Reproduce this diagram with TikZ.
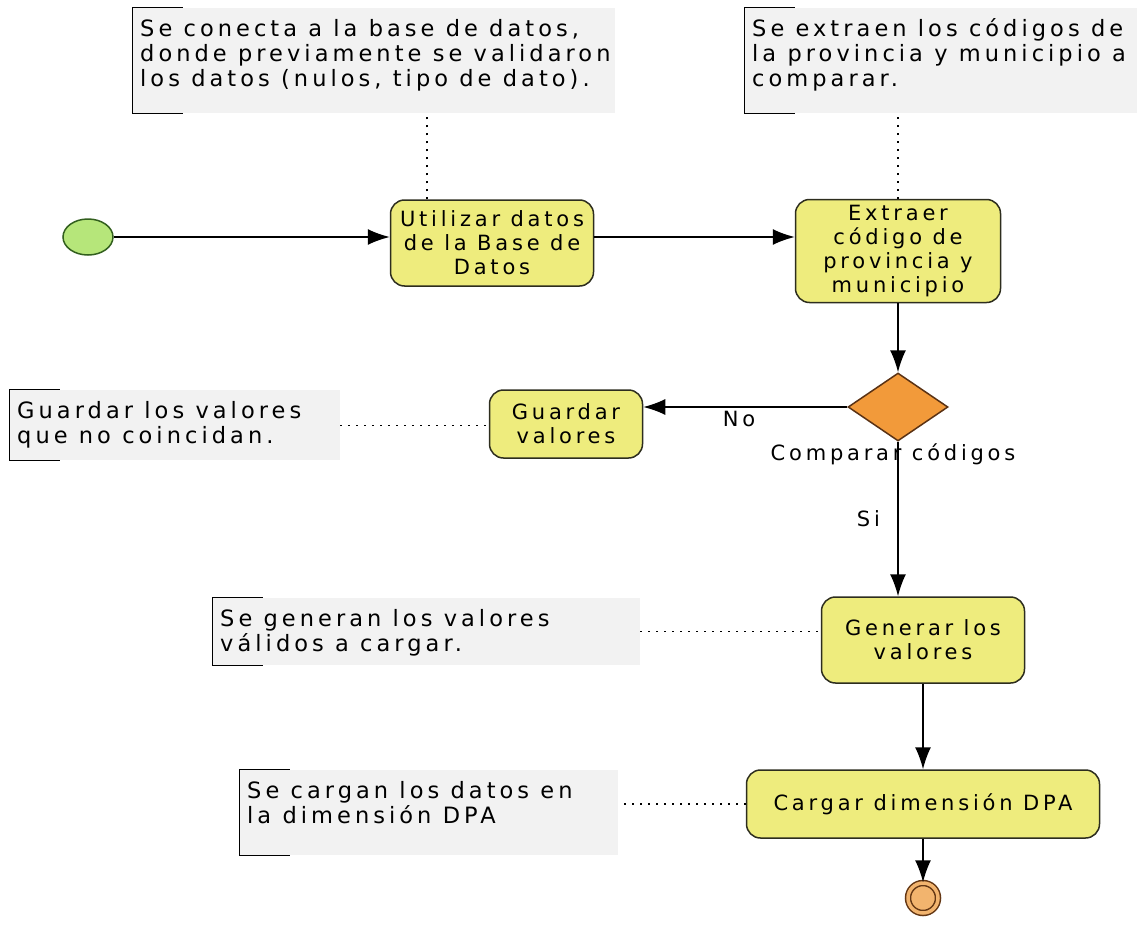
\documentclass[tikz,border=0pt]{standalone}
\usepackage{fontspec}
\setmainfont[LetterSpace=18]{DejaVu Sans}
\usetikzlibrary{shapes.geometric,arrows.meta,positioning}

\definecolor{notegray}{RGB}{242,242,242}
\definecolor{taskyellow}{RGB}{238,236,125}
\definecolor{taskline}{RGB}{45,45,30}
\definecolor{gateorange}{RGB}{242,154,58}
\definecolor{gateline}{RGB}{90,50,20}
\definecolor{startgreen}{RGB}{182,230,122}
\definecolor{startline}{RGB}{50,95,30}
\definecolor{endorange}{RGB}{242,180,110}
\definecolor{endline}{RGB}{100,55,20}

\tikzset{
  task/.style={draw=taskline, fill=taskyellow, line width=1.5pt, rounded corners=14pt, align=center, inner sep=3pt},
  note/.style={fill=notegray, anchor=north west, inner xsep=7pt, inner ysep=4pt, text height=24pt,
    font=\fontsize{22.5}{25}\selectfont,
    execute at begin node={\spaceskip=0.5em plus 0.1em\relax},
    append after command={\pgfextra{\draw[line width=1.5pt] ([xshift=50pt]\tikzlastnode.north west) -| (\tikzlastnode.south west) -- ([xshift=50pt]\tikzlastnode.south west);}}},
  assoc/.style={draw=black, dash pattern=on 2pt off 6pt, line width=1.3pt},
  flow/.style={draw=black, line width=1.5pt, -{Latex[length=22pt,width=16pt]}}
}

\begin{document}
\begin{tikzpicture}[x=1pt, y=-1pt, every node/.style={font=\fontsize{21}{24}\selectfont}]
\useasboundingbox (0,0) rectangle (1139,942);

% the notes
\node[note, text width=468pt, text depth=73pt] (nusar) at (133,8) {Se conecta a la base de datos,\\ donde previamente se validaron\\ los datos (nulos, tipo de dato).};
\node[note, text width=378pt, text depth=73pt] (nextraer) at (745,8) {Se extraen los códigos de\\ la provincia y municipio a\\ comparar.};
\node[note, text width=316pt, text depth=38pt] (nguardar) at (10,390) {Guardar los valores\\ que no coincidan.};
\node[note, text width=413pt, text depth=35pt] (ngenerar) at (213,598) {Se generan los valores\\ válidos a cargar.};
\node[note, text width=364pt, text depth=53pt] (ncargar) at (240,770) {Se cargan los datos en\\ la dimensión DPA};

% events and gateway
\node[ellipse, draw=startline, fill=startgreen, line width=1.5pt, minimum width=50pt, minimum height=36pt] (inicio) at (88,237) {};
\node[diamond, draw=gateline, fill=gateorange, line width=1.5pt, minimum width=100pt, minimum height=68pt, inner sep=0pt] (comparar) at (898,407) {};
\node (lblcomparar) at (893,454) {Comparar códigos};
\node[circle, draw=endline, fill=endorange, double=endorange, double distance=3.5pt, line width=1.5pt, minimum size=30pt, inner sep=0pt] (fin) at (923,898) {};

% the tasks
\node[task, minimum width=203pt, minimum height=86pt] (usar) at (492,243) {Utilizar datos\\ de la Base de\\ Datos};
\node[task, minimum width=205pt, minimum height=103pt] (extraer) at (898,251) {Extraer\\ código de\\ provincia y\\ municipio};
\node[task, minimum width=153pt, minimum height=68pt] (guardar) at (566,424) {Guardar\\ valores};
\node[task, minimum width=203pt, minimum height=86pt] (generar) at (923,640) {Generar los\\ valores};
\node[task, minimum width=353pt, minimum height=68pt] (cargar) at (923,804) {Cargar dimensión DPA};

% sequence flow
\draw[flow] (inicio) -- (inicio -| usar.west);
\draw[flow] (inicio -| usar.east) -- (inicio -| extraer.west);
\draw[flow] (extraer) -- (comparar);
\draw[flow] (comparar) -- (comparar -| guardar.east) node[pos=0.53, below] {No};
\draw[flow] (comparar) -- (comparar |- generar.north) node[midway, left=14pt] {Si};
\draw[flow] (generar) -- (cargar);
\draw[flow] (cargar) -- (fin);

% dotted links to the notes
\draw[assoc] ([xshift=-65pt]usar.north) -- ([xshift=-65pt]usar.north |- nusar.south);
\draw[assoc] (extraer.north) -- (extraer.north |- nextraer.south);
\draw[assoc] (nguardar.east) -- (nguardar.east -| guardar.west);
\draw[assoc] (ngenerar.east) -- (ngenerar.east -| generar.west);
\draw[assoc] (cargar.west) -- (cargar.west -| ncargar.east);
\end{tikzpicture}
\end{document}
